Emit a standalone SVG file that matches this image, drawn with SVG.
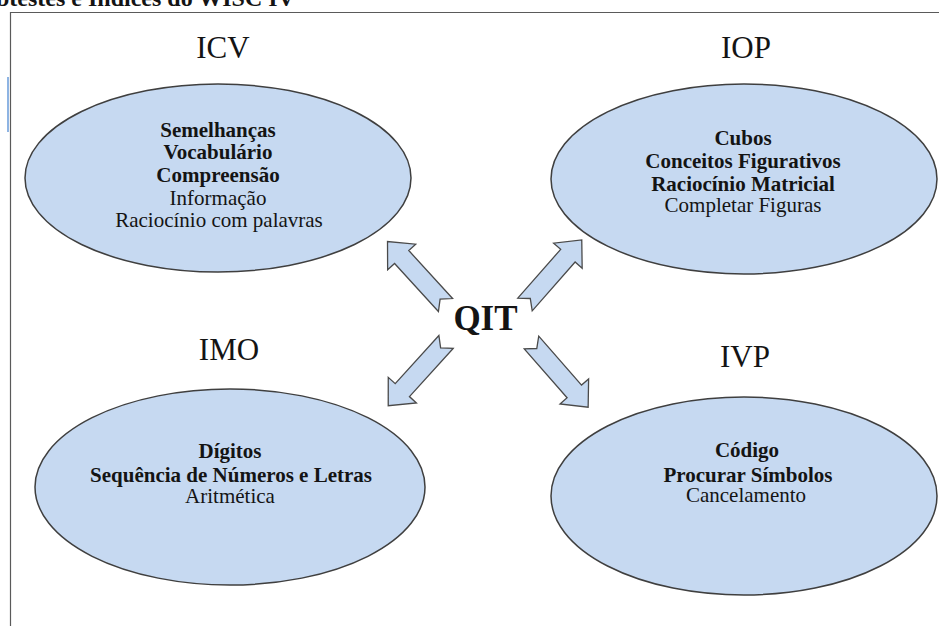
<svg xmlns="http://www.w3.org/2000/svg" xmlns:xlink="http://www.w3.org/1999/xlink" width="939" height="626" viewBox="0 0 939 626">
<style>
.frame{fill:none;stroke:#5a5a5a;stroke-width:1.2}
.node ellipse{fill:#c6d9f1;stroke:#3f3f3f;stroke-width:1.5}
.arrow{fill:#c6d9f1;stroke:#4a4a4a;stroke-width:1.3;stroke-linejoin:miter}
text{font-family:"Liberation Serif","Times New Roman",serif;fill:#141414;text-anchor:middle}
.lbl{font-size:31px}
.b{font-size:21px;font-weight:bold}
.r{font-size:21px}
.qit{font-size:35px;font-weight:bold}
.title{font-size:24px;font-weight:bold;text-anchor:start}
</style>
<defs>
<polygon id="notched" points="0,-9.6 65,-9.6 65,-19 86,0 65,19 65,9.6 0,9.6 8,0"/>
</defs>
<rect width="939" height="626" fill="#ffffff"/>
<text class="title" x="-4" y="6">btestes e Índices do WISC IV</text>
<path class="frame" d="M10.5,626 V12.5 H939"/>
<line x1="8" y1="77" x2="8" y2="132" stroke="#8eb4e3" stroke-width="2"/>

<g id="connectors">
<use xlink:href="#notched" class="arrow" transform="translate(445.5 305) rotate(-132.4)"/>
<use xlink:href="#notched" class="arrow" transform="translate(525 304.5) rotate(-48.7)"/>
<use xlink:href="#notched" class="arrow" transform="translate(446 342) rotate(132.2)"/>
<use xlink:href="#notched" class="arrow" transform="translate(531.5 342.5) rotate(48.8)"/>
</g>

<g id="qit">
<text class="qit" x="485.5" y="330">QIT</text>
</g>

<g id="icv" class="node">
<text class="lbl" x="223" y="58">ICV</text>
<ellipse cx="218" cy="178" rx="193" ry="94"/>
<text class="b" x="218" y="137">Semelhanças</text>
<text class="b" x="218" y="159">Vocabulário</text>
<text class="b" x="218" y="182">Compreensão</text>
<text class="r" x="218" y="205">Informação</text>
<text class="r" x="219" y="227">Raciocínio com palavras</text>
</g>

<g id="iop" class="node">
<text class="lbl" x="746" y="58">IOP</text>
<ellipse cx="744" cy="179" rx="193" ry="95"/>
<text class="b" x="743" y="145">Cubos</text>
<text class="b" x="743" y="168">Conceitos Figurativos</text>
<text class="b" x="743" y="191">Raciocínio Matricial</text>
<text class="r" x="743" y="212">Completar Figuras</text>
</g>

<g id="imo" class="node">
<text class="lbl" x="229" y="360">IMO</text>
<ellipse cx="230" cy="487" rx="195" ry="98"/>
<text class="b" x="230" y="458">Dígitos</text>
<text class="b" x="231" y="482">Sequência de Números e Letras</text>
<text class="r" x="230" y="503">Aritmética</text>
</g>

<g id="ivp" class="node">
<text class="lbl" x="745" y="367">IVP</text>
<ellipse cx="744" cy="496" rx="193" ry="99"/>
<text class="b" x="747" y="457">Código</text>
<text class="b" x="748" y="482">Procurar Símbolos</text>
<text class="r" x="746" y="502">Cancelamento</text>
</g>
</svg>
